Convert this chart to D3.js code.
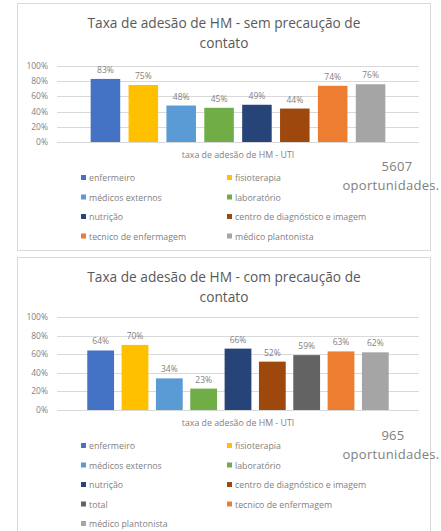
<!DOCTYPE html>
<html>
<head>
<meta charset="utf-8">
<script src="https://cdn.jsdelivr.net/npm/d3@7"></script>
<style>
  body { margin: 0; background: #fff; }
  svg { display: block; font-family: "Open Sans", "Liberation Sans", sans-serif; }
  .box { fill: #fff; stroke: #d9d9d9; }
  .title { fill: #595959; font-size: 13.7px; }
  .tick-label, .bar-label { fill: #7f7f7f; font-size: 8.5px; }
  .axis-title, .legend-text { fill: #7f7f7f; font-size: 8.8px; }
  .grid { stroke: #d9d9d9; stroke-width: 1; }
  .note { fill: #808080; font-size: 13px; letter-spacing: 0.3px; }
</style>
</head>
<body>
<div id="chart"></div>
<script>
  const categories1 = ["enfermeiro", "fisioterapia", "médicos externos", "laboratório", "nutrição",
    "centro de diagnóstico e imagem", "tecnico de enfermagem", "médico plantonista"];
  const values1 = [83, 75, 48, 45, 49, 44, 74, 76];

  const categories2 = ["enfermeiro", "fisioterapia", "médicos externos", "laboratório", "nutrição",
    "centro de diagnóstico e imagem", "total", "tecnico de enfermagem", "médico plantonista"];
  const values2 = [64, 70, 34, 23, 66, 52, 59, 63, 62];

  const yTicks = [0, 20, 40, 60, 80, 100];

  const colors = {
    "enfermeiro": "#4472c4",
    "fisioterapia": "#ffc000",
    "médicos externos": "#5b9bd5",
    "laboratório": "#70ad47",
    "nutrição": "#264478",
    "centro de diagnóstico e imagem": "#9e480e",
    "tecnico de enfermagem": "#ed7d31",
    "médico plantonista": "#a5a5a5",
    "total": "#636363"
  };

  const svg = d3.select("#chart").append("svg")
    .attr("width", 441)
    .attr("height", 531);

  function drawChart(opt) {
    const g = svg.append("g");

    g.append("rect").attr("class", "box")
      .attr("x", 17.5).attr("y", opt.boxTop + 0.5)
      .attr("width", 413).attr("height", opt.boxHeight);

    opt.title.forEach((line, i) => {
      g.append("text").attr("class", "title")
        .attr("x", 224).attr("y", opt.titleY + i * 19.5)
        .attr("text-anchor", "middle")
        .text(line);
    });

    const y = d3.scaleLinear().domain([0, 100]).range([opt.plotBottom, opt.plotTop]);
    const x = d3.scaleBand().domain(opt.categories).range(opt.barRange).paddingInner(opt.padding).paddingOuter(opt.padding / 2);

    // gridlines + tick labels
    yTicks.forEach((t) => {
      g.append("line").attr("class", "grid")
        .attr("x1", 57).attr("x2", 419)
        .attr("y1", Math.round(y(t)) + 0.5).attr("y2", Math.round(y(t)) + 0.5);
      g.append("text").attr("class", "tick-label")
        .attr("x", 48).attr("y", y(t) + 3)
        .attr("text-anchor", "end")
        .text(t + "%");
    });

    g.selectAll(".bar").data(opt.categories).enter().append("rect")
      .attr("x", (d) => x(d))
      .attr("width", x.bandwidth())
      .attr("y", (d, i) => y(opt.values[i]))
      .attr("height", (d, i) => y(0) - y(opt.values[i]))
      .attr("fill", (d) => colors[d]);

    g.selectAll(".bar-label").data(opt.categories).enter().append("text")
      .attr("class", "bar-label")
      .attr("x", (d) => x(d) + x.bandwidth() / 2)
      .attr("y", (d, i) => y(opt.values[i]) - 6)
      .attr("text-anchor", "middle")
      .text((d, i) => opt.values[i] + "%");

    g.append("text").attr("class", "axis-title")
      .attr("x", 238).attr("y", opt.axisTitleY)
      .attr("text-anchor", "middle")
      .text("taxa de adesão de HM - UTI");

    opt.categories.forEach((c, i) => {
      const col = i % 2;
      const row = Math.floor(i / 2);
      const lx = col === 0 ? 81 : 227;
      const ly = opt.legendY + row * 19.5;
      g.append("rect").attr("x", lx).attr("y", ly - 3).attr("width", 5).attr("height", 5)
        .attr("fill", colors[c]);
      g.append("text").attr("class", "legend-text")
        .attr("x", lx + 8).attr("y", ly + 3)
        .text(c);
    });

    g.append("text").attr("class", "note")
      .attr("x", opt.noteX).attr("y", opt.noteY)
      .attr("text-anchor", "middle")
      .text(opt.note);
    g.append("text").attr("class", "note")
      .attr("x", 391).attr("y", opt.noteY + 19)
      .attr("text-anchor", "middle")
      .text("oportunidades.");
  }

  drawChart({
    boxTop: 3, boxHeight: 247,
    title: ["Taxa de adesão de HM - sem precaução de", "contato"],
    titleY: 28,
    plotTop: 66, plotBottom: 142,
    categories: categories1, values: values1,
    barRange: [86.5, 389.5], padding: 0.22,
    axisTitleY: 158,
    legendY: 178,
    note: "5607", noteX: 397, noteY: 171
  });

  drawChart({
    boxTop: 257, boxHeight: 290,
    title: ["Taxa de adesão de HM - com precaução de", "contato"],
    titleY: 282,
    plotTop: 317, plotBottom: 410,
    categories: categories2, values: values2,
    barRange: [83.5, 392.5], padding: 0.22,
    axisTitleY: 426,
    legendY: 446,
    note: "965", noteX: 393, noteY: 440
  });
</script>
</body>
</html>
